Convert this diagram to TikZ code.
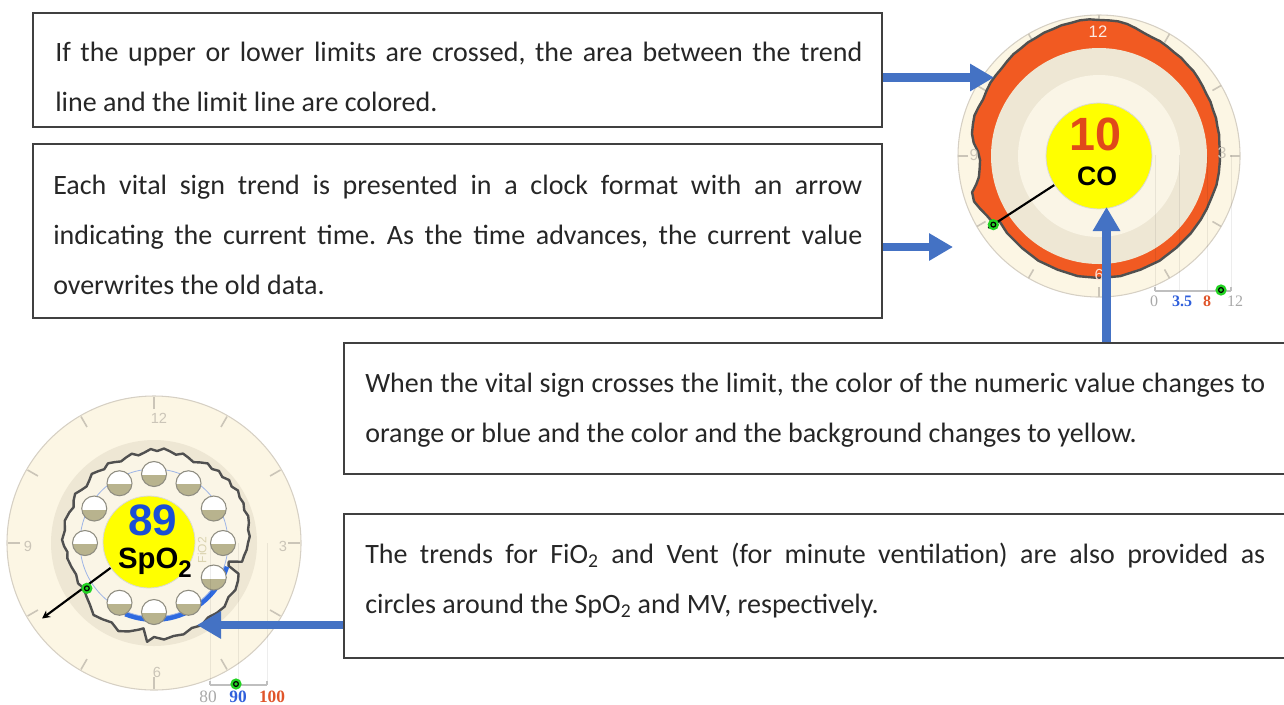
\documentclass[tikz,border=0pt]{standalone}
\usepackage{fontspec}
\setmainfont{Carlito}
\newfontfamily\dialfont{Liberation Sans}
\newfontfamily\scalefont{Liberation Serif}
\usetikzlibrary{arrows.meta,fit}
\frenchspacing

\definecolor{ink}{HTML}{262626}
\definecolor{boxline}{HTML}{404040}
\definecolor{pointerblue}{HTML}{4472C4}
\definecolor{dialcream}{HTML}{FCF6E4}
\definecolor{dialbeige}{HTML}{EEE7D4}
\definecolor{innercream}{HTML}{FAF5E6}
\definecolor{rimgray}{HTML}{D6D0C4}
\definecolor{tickgray}{HTML}{CBC5B8}
\definecolor{alarmorange}{HTML}{F15A22}
\definecolor{trendgray}{HTML}{505050}
\definecolor{discyellow}{HTML}{FFFF00}
\definecolor{valorange}{HTML}{E04A1A}
\definecolor{valblue}{HTML}{1A4ED6}
\definecolor{markgreen}{HTML}{22D322}
\definecolor{bubbleolive}{HTML}{B8B38E}
\definecolor{bubbleedge}{HTML}{8E8C80}
\definecolor{limitblue}{HTML}{2F6AE0}
\definecolor{limitline}{HTML}{9DB4E6}
\definecolor{scalegray}{HTML}{A8A8A8}
\definecolor{scaleblue}{HTML}{2F5FDB}
\definecolor{scalered}{HTML}{E0552A}
\definecolor{fiogray}{HTML}{D9D2AE}

\tikzset{
  notebox/.style={draw=boxline, line width=1.3pt, inner sep=0pt},
  noteline/.style={anchor=base west, inner sep=0pt, text=ink,
    font=\fontsize{21}{25}\selectfont},
  pointer/.style={draw=pointerblue, line width=6.5pt,
    -{Triangle[length=18pt,width=19.5pt]}},
  dialtick/.style={draw=tickgray, line width=1.2pt},
  dialnum/.style={inner sep=0pt, text=tickgray},
  disc/.style={circle, fill=discyellow, draw=black!15, line width=0.6pt, inner sep=0pt},
  hand/.style={draw=black, line width=1.6pt},
  marker/.style={circle, fill=markgreen, inner sep=0pt, minimum size=8.5pt,
    path picture={\draw[black, line width=0.9pt]
      (path picture bounding box.center) circle[radius=1.8pt];}},
  trend/.style={draw=trendgray, line width=1.8pt, line join=round},
  gridline/.style={draw=black, draw opacity=0.07, line width=0.6pt},
  scaleline/.style={draw=black!25, line width=0.8pt},
  scalenum/.style={inner sep=0pt, anchor=base},
}

\begin{document}
\begin{tikzpicture}[x=0.75pt, y=-0.75pt]
\useasboundingbox (0,0) rectangle (1284,704);

% ---------- cardiac output dial ----------
\begin{scope}[shift={(1099,156)}, yscale=-1]
  \fill[dialcream] (0,0) circle[radius=141];
  \draw[rimgray, line width=0.8pt] (0,0) circle[radius=141];
  \foreach \a in {0,30,...,330} \draw[dialtick] (\a:131) -- (\a:141);
  % area between the trend and the upper limit
  \path[fill=alarmorange, trend] plot coordinates {
    (213:125) (208:127) (204:130) (200:133) (196:132) (193:126) (190:122)
    (186:120) (182:119) (178:121) (174:126) (170:129) (166:130) (162:131)
    (158:130) (154:129) (150:130) (146:131) (142:131) (138:131) (134:132)
    (130:133) (126:133) (122:134) (118:134) (114:135) (110:135) (106:136)
    (102:136) (98:137) (94:137) (90:136) (86:136) (82:136) (78:135)
    (74:133) (70:131) (66:130) (62:130) (58:129) (54:128) (50:128)
    (46:127) (42:127) (38:126) (34:125) (30:124) (26:124) (22:123)
    (18:123) (14:122) (10:122) (6:121) (2:121) (-2:121) (-8:121)
    (-14:121) (-20:120) (-26:120) (-32:120) (-40:120) (-50:120) (-60:121)
    (-70:121) (-80:122) (-90:122) (-100:122) (-110:121) (-120:121)
    (-130:120) (-140:120) (-147:119)} -- cycle;
  \fill[dialbeige] (0,0) circle[radius=108];
  \fill[innercream] (0,0) circle[radius=81];
  \node[dialnum, text=white!88!alarmorange, font=\dialfont\fontsize{12.5}{12.5}\selectfont] (co12) at (-1,124) {12};
  \node[dialnum, font=\dialfont\fontsize{12}{12}\selectfont] (co9) at (-125,1) {9};
  \node[dialnum, font=\dialfont\fontsize{12}{12}\selectfont] (co3) at (123,3) {3};
  \node[dialnum, text=white!80!alarmorange, font=\dialfont\fontsize{12}{12}\selectfont] (co6) at (0,-119) {6};
  \node[disc, minimum size=79.5pt] (coDisc) at (0,0) {};
  \node[inner sep=0pt, text=valorange, font=\dialfont\bfseries\fontsize{35}{35}\selectfont] (coValue) at (-4,22) {10};
  \node[inner sep=0pt, text=black, font=\dialfont\bfseries\fontsize{20}{20}\selectfont] (coName) at (-2,-20) {CO};
  \coordinate (coHandEnd) at (213:132);
  \draw[hand] (coDisc.213) -- (coHandEnd);
  \node[marker] (coMark) at (213:126) {};
\end{scope}

% scale below the cardiac output dial
\foreach \x in {1155,1179,1207,1231} \draw[gridline] (\x,155) -- (\x,291);
\coordinate (coScaleL) at (1155,291);
\coordinate (coScaleR) at (1231,291);
\draw[scaleline] (coScaleL) -- (coScaleR);
\draw[scaleline] (coScaleL) -- ++(0,-4);
\draw[scaleline] (coScaleR) -- ++(0,-4);
\node[scalenum, text=scalegray, font=\scalefont\fontsize{12}{12}\selectfont] (co0) at (1154,306) {0};
\node[scalenum, text=scaleblue, font=\scalefont\bfseries\fontsize{12}{12}\selectfont] (co35) at (1182,306) {3.5};
\node[scalenum, text=scalered, font=\scalefont\bfseries\fontsize{12}{12}\selectfont] (co8) at (1207,306) {8};
\node[scalenum, text=scalegray, font=\scalefont\fontsize{12}{12}\selectfont] (coMax) at (1235,306) {12};
\node[marker] (coScaleMark) at (1221,290) {};

% ---------- oxygen saturation dial ----------
\begin{scope}[shift={(154,543)}, yscale=-1]
  \fill[dialcream] (0,0) circle[radius=147];
  \draw[rimgray, line width=0.8pt] (0,0) circle[radius=147];
  \foreach \a in {0,30,...,330} \draw[dialtick] (\a:134) -- (\a:146);
  \node[dialnum, font=\dialfont\fontsize{11}{11}\selectfont] (sp12) at (5,125) {12};
  \node[dialnum, font=\dialfont\fontsize{11}{11}\selectfont] (sp9) at (-126,-3) {9};
  \node[dialnum, font=\dialfont\fontsize{11}{11}\selectfont] (sp3) at (129,-3) {3};
  \node[dialnum, font=\dialfont\fontsize{11}{11}\selectfont] (sp6) at (3,-129) {6};
  \fill[dialbeige] (0,0) circle[radius=103];
  % saturation trend line
  \path[fill=innercream, trend] plot coordinates {
    (214:83) (208:86) (202:84) (196:86) (190:88) (186:87) (182:90)
    (178:92) (172:90) (166:92) (160:90) (156:88) (152:91) (148:93)
    (144:90) (140:88) (136:90) (132:93) (128:91) (124:89) (120:92)
    (116:90) (112:88) (108:90) (104:92) (100:89) (96:91) (92:94)
    (88:92) (84:95) (80:93) (76:91) (72:94) (68:92) (64:90) (60:93)
    (56:96) (52:94) (48:97) (44:95) (40:98) (36:96) (32:99) (28:97)
    (24:98) (20:96) (16:98) (12:97) (8:95) (4:96) (0:94) (-4:93)
    (-8:91) (-12:90) (-14:77) (-17:78) (-20:90) (-24:92) (-30:94)
    (-36:92) (-42:95) (-48:94) (-54:92) (-60:95) (-66:93) (-72:96)
    (-78:95) (-84:97) (-90:94) (-94:99) (-97:86) (-100:88) (-106:92)
    (-112:95) (-118:90) (-124:92) (-130:94) (-136:89) (-142:86)
    (-146:84)} -- cycle;
  % values below the lower limit
  \fill[limitblue] (-18:74) arc[start angle=-18, end angle=-112, radius=74]
    -- (-112:79) arc[start angle=-112, end angle=-18, radius=79] -- cycle;
  \draw[limitline, line width=0.6pt] (0,0) circle[radius=74];
  % oxygen fraction bubbles
  \foreach \a in {90,60,30,0,-30,-60,-90,-120,180,150,120} {
    \fill[white] (\a:69) circle[radius=12.5];
    \begin{scope}
      \clip (\a:69) circle[radius=12.5];
      \fill[bubbleolive] (\a:69) ++(-13,-13) rectangle ++(26,12);
    \end{scope}
    \draw[bubbleedge, line width=0.8pt] (\a:69) circle[radius=12.5];
  }
  \node[disc, minimum size=69pt] (spDisc) at (-5,1) {};
  \node[inner sep=0pt, text=valblue, font=\dialfont\bfseries\fontsize{33}{33}\selectfont] (spValue) at (-1,23) {89};
  \node[inner sep=0pt, text=black, font=\dialfont\bfseries\fontsize{22}{22}\selectfont] (spName) at (1,-20)
    {SpO\raisebox{-7pt}{\fontsize{18}{18}\selectfont 2}};
  \node[inner sep=0pt, rotate=90, text=fiogray, font=\dialfont\fontsize{9}{9}\selectfont] (spFio) at (48,-7) {FiO2};
  \coordinate (spHandEnd) at (214:135);
  \draw[hand, -{Stealth[length=6pt,width=6pt]}] (spDisc.214) -- (spHandEnd);
  \node[marker] (spMark) at (214:81) {};
\end{scope}

% scale below the saturation dial
\foreach \x in {210,238,267} \draw[gridline] (\x,543) -- (\x,685);
\coordinate (spScaleL) at (210,685);
\coordinate (spScaleR) at (267,685);
\draw[scaleline] (spScaleL) -- (spScaleR);
\draw[scaleline] (spScaleL) -- ++(0,-4);
\draw[scaleline] (spScaleR) -- ++(0,-4);
\node[scalenum, text=scalegray, font=\scalefont\fontsize{13}{13}\selectfont] (sp80) at (208,702) {80};
\node[scalenum, text=scaleblue, font=\scalefont\bfseries\fontsize{13}{13}\selectfont] (sp90) at (238,702) {90};
\node[scalenum, text=scalered, font=\scalefont\bfseries\fontsize{13}{13}\selectfont] (sp100) at (272,702) {100};
\node[marker] (spScaleMark) at (236,684) {};

% ---------- note boxes ----------
\node[notebox, fit={(33,13) (882,127)}] (box1) {};
\node[notebox, fit={(33,144) (882,318)}] (box2) {};
\node[notebox, fit={(344,343) (1300,474)}] (box3) {};
\node[notebox, fit={(344,514) (1300,658)}] (box4) {};

\node[noteline] (box1a) at (55,61.5) {\makebox[605.25pt][s]{If the upper or lower limits are crossed, the area between the trend}};
\node[noteline] (box1b) at (55,111.5) {line and the limit line are colored.};
\node[noteline] (box2a) at (53,194) {\makebox[606.75pt][s]{Each vital sign trend is presented in a clock format with an arrow}};
\node[noteline] (box2b) at (53,244) {\makebox[606.75pt][s]{indicating the current time. As the time advances, the current value}};
\node[noteline] (box2c) at (53,294.5) {overwrites the old data.};
\node[noteline] (box3a) at (365,392) {\makebox[675pt][s]{When the vital sign crosses the limit, the color of the numeric value changes to}};
\node[noteline] (box3b) at (365,442) {orange or blue and the color and the background changes to yellow.};
\node[noteline] (box4a) at (365,563.5) {\makebox[675pt][s]{The trends for FiO\textsubscript{2} and Vent (for minute ventilation) are also provided as}};
\node[noteline] (box4b) at (365,613.5) {circles around the SpO\textsubscript{2} and MV, respectively.};

% ---------- pointers ----------
\coordinate (coEdge) at (994,77.5);
\coordinate (coHandTip) at (953,247);
\coordinate (coBase) at (1106.5,207);
\coordinate (spLow) at (197,625);
\draw[pointer] (box1.east |- coEdge) -- (coEdge);
\draw[pointer] (box2.east |- coHandTip) -- (coHandTip);
\draw[pointer] (box3.north -| coBase) -- (coBase);
\draw[pointer] (box4.west |- spLow) -- (spLow);
\end{tikzpicture}
\end{document}
